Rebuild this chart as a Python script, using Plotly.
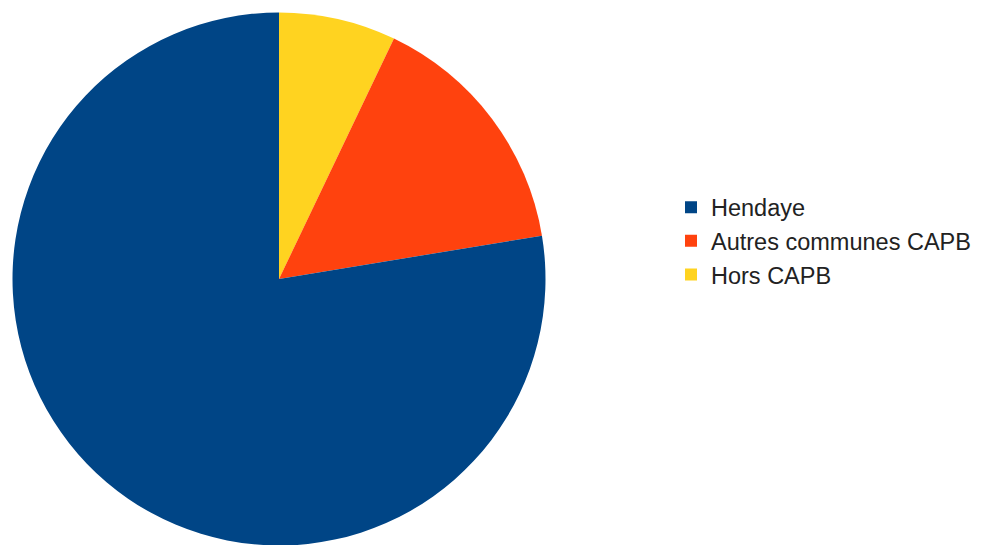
import plotly.graph_objects as go

labels = ["Hendaye", "Autres communes CAPB", "Hors CAPB"]
values = [77.6, 15.3, 7.1]
colors = ["#004586", "#ff420e", "#ffd320"]

W, H = 985, 545
fig = go.Figure(go.Pie(
    labels=labels[::-1],
    values=values[::-1],
    sort=False,
    direction="clockwise",
    rotation=0,
    marker=dict(colors=colors[::-1], line=dict(width=0)),
    textinfo="none",
    hoverinfo="label+percent",
    domain=dict(x=[4 / W, 538 / W], y=[1 - 537.5 / H, 1 - 4.5 / H]),
))
fig.update_layout(
    width=W, height=H,
    margin=dict(l=0, r=0, t=0, b=0),
    paper_bgcolor="white",
    plot_bgcolor="white",
    font=dict(family="Liberation Sans, Arial, sans-serif", size=23.5, color="#222222"),
    legend=dict(
        x=663 / W, xanchor="left",
        y=1 - 233 / H, yanchor="middle",
        itemwidth=30,
        traceorder="reversed",
        tracegroupgap=0,
        font=dict(size=23.5),
    ),
)
fig.write_html("out.html")
